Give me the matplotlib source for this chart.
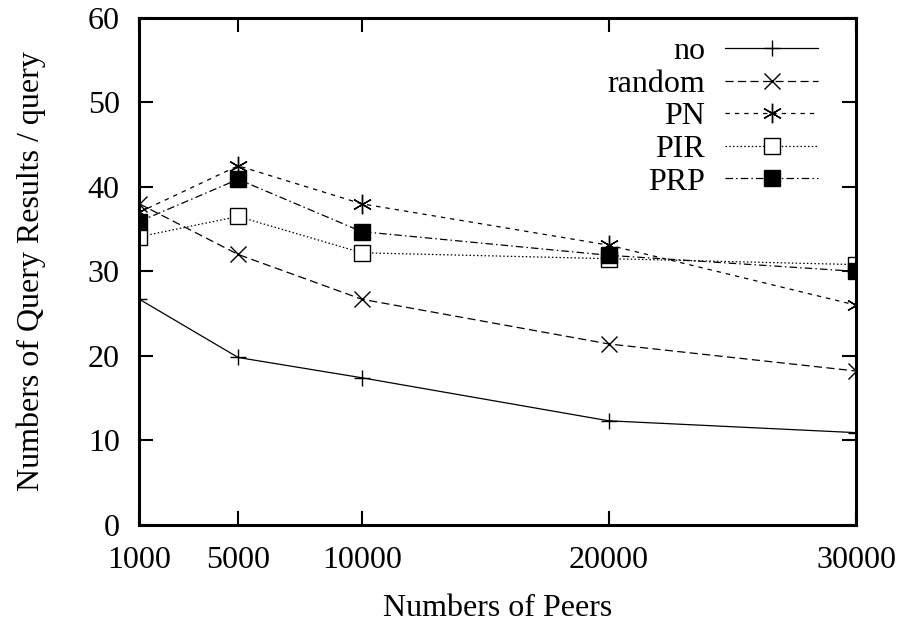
import matplotlib
matplotlib.use("Agg")
import matplotlib.pyplot as plt

peers = [1000, 5000, 10000, 20000, 30000]
x_ticks = [1000, 5000, 10000, 20000, 30000]
y_ticks = [0, 10, 20, 30, 40, 50, 60]

no_vals = [26.7, 19.8, 17.4, 12.3, 10.9]
random_vals = [38.0, 32.0, 26.7, 21.4, 18.2]
pn_vals = [37.0, 42.5, 38.0, 33.1, 26.0]
pir_vals = [34.1, 36.5, 32.2, 31.5, 30.8]
prp_vals = [35.9, 40.9, 34.7, 31.9, 30.0]

labels = ["no", "random", "PN", "PIR", "PRP"]

FS = 23
plt.rcParams['font.family'] = ['Liberation Serif', 'DejaVu Serif']
plt.rcParams['font.size'] = FS

fig = plt.figure(figsize=(9.01, 6.24), dpi=100)
x0, x1 = 139.3, 856.0
y0, y1 = 524.7, 18.0
ax = fig.add_axes([x0/901, 1 - y0/624, (x1 - x0)/901, (y0 - y1)/624])

lw = 0.9
ms = 11
ax.plot(peers, no_vals, color='black', lw=lw, linestyle='-', marker='+', ms=ms+1, mew=1.0, label=labels[0])
ax.plot(peers, random_vals, color='black', lw=lw, linestyle=(0, (6.5, 3.5)), marker='x', ms=ms, mew=1.0, label=labels[1])
ax.plot(peers, pn_vals, color='black', lw=lw, linestyle=(0, (3.5, 4.0)), marker=(6, 2, 0), ms=ms+3, mew=1.0, label=labels[2])
ax.plot(peers, pir_vals, color='black', lw=lw, linestyle=(0, (1.2, 1.8)), marker='s', ms=ms, mew=1.0,
        markerfacecolor='white', markeredgecolor='black', label=labels[3])
ax.plot(peers, prp_vals, color='black', lw=lw, linestyle=(0, (6.0, 2.5, 1.2, 2.5)), marker='s', ms=ms, mew=1.0,
        markerfacecolor='black', label=labels[4])

ax.set_xlim(1000, 30000)
ax.set_ylim(0, 60)
ax.set_xticks(x_ticks)
ax.set_xticklabels([str(v) for v in x_ticks])
ax.set_yticks(y_ticks)
ax.set_yticklabels([str(v) for v in y_ticks])
ax.tick_params(direction='in', length=10, width=1.5, top=True, right=True, labelsize=FS)
ax.tick_params(axis='x', pad=15)
ax.tick_params(axis='y', pad=14)
for s in ax.spines.values():
    s.set_linewidth(2.2)

ax.set_xlabel("Numbers of Peers", fontsize=FS, labelpad=14)
ax.set_ylabel("Numbers of Query Results / query", fontsize=FS, labelpad=30)

ax_w = x1 - x0
ax_h = y0 - y1
leg = ax.legend(loc='upper right', frameon=False, markerfirst=False, handlelength=2.9,
                handletextpad=0.63, labelspacing=0.1, borderpad=0.0, borderaxespad=0.0,
                fontsize=FS, bbox_to_anchor=((818 - x0)/ax_w, (y0 - 37)/ax_h))

fig.savefig("out.png", dpi=100)
